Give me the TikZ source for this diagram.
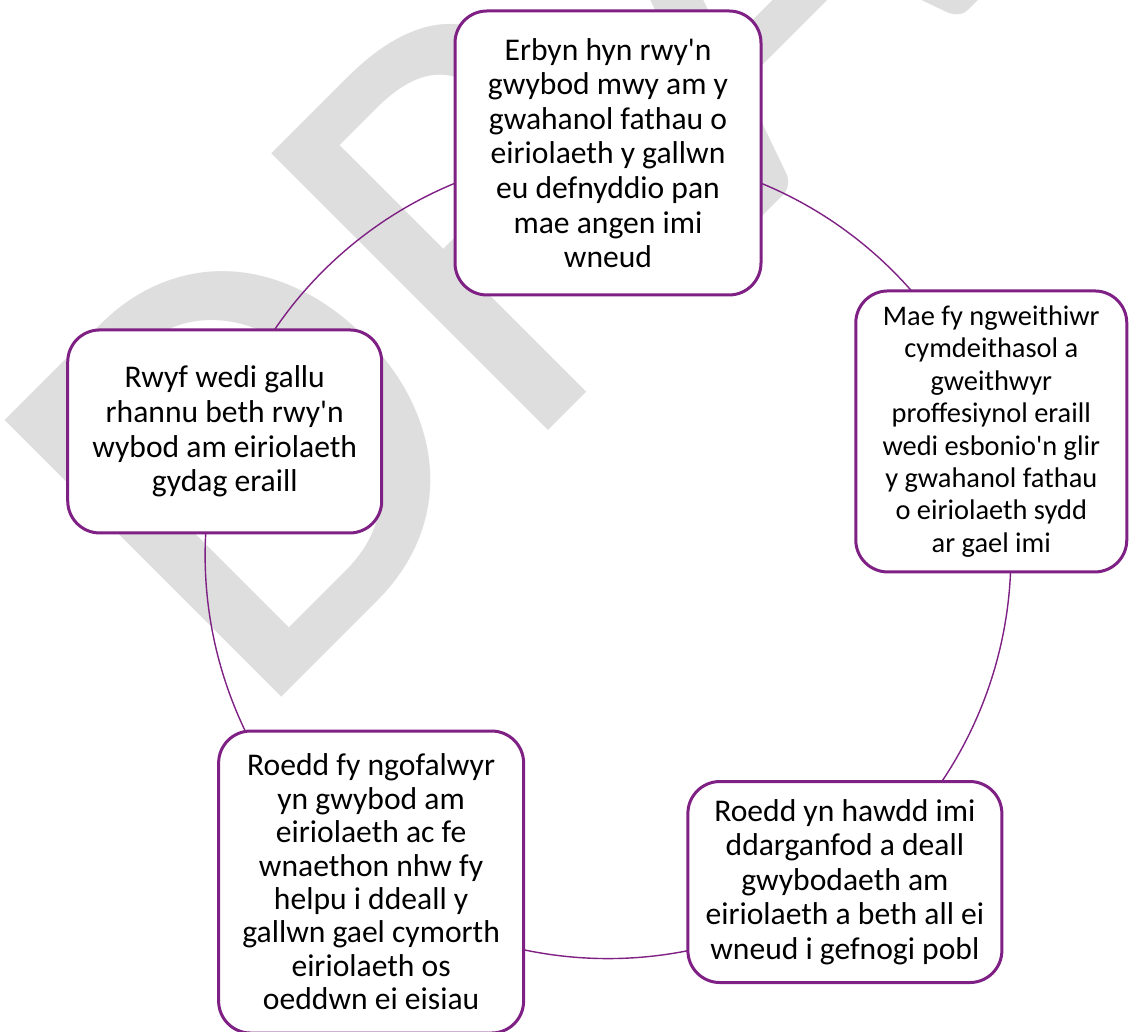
\documentclass[tikz,border=0pt]{standalone}
\usepackage{fontspec}
\setmainfont{Carlito}
\usepackage{xcolor}
\usepackage{tikz}
\usetikzlibrary{backgrounds}
\definecolor{cyclePurple}{RGB}{126,32,132}
\definecolor{draftGrey}{RGB}{222,222,222}
\newcommand{\cycleRadius}{403}
\newcommand{\draftSize}{305}
\newcommand{\apos}{\textquotesingle}

\begin{document}
\begin{tikzpicture}[x=0.5pt, y=0.5pt,
	cycleBox/.style={draw=cyclePurple, line width=1.5pt, fill=white, rounded corners=16pt, align=center, inner sep=0pt, font=\fontsize{15.8}{17.3}\selectfont},
	cycleLink/.style={draw=cyclePurple, line width=0.7pt}]

	\useasboundingbox (0,0) rectangle (1130,1032);

	\begin{scope}[shift={(608,476)}]
		\node[cycleBox, minimum width=153pt, minimum height=142pt] (top) at (90:\cycleRadius) {Erbyn hyn rwy\apos n\\gwybod mwy am y\\gwahanol fathau o\\eiriolaeth y gallwn\\eu defnyddio pan\\mae angen imi\\wneud};
		\node[cycleBox, minimum width=135.5pt, minimum height=140.5pt, font=\fontsize{14.2}{16.2}\selectfont] (right) at (18:\cycleRadius) {Mae fy ngweithiwr\\cymdeithasol a\\gweithwyr\\proffesiynol eraill\\wedi esbonio\apos n glir\\y gwahanol fathau\\o eiriolaeth sydd\\ar gael imi};
		\node[cycleBox, minimum width=157pt, minimum height=100.5pt] (lowRight) at (-54:\cycleRadius) {Roedd yn hawdd imi\\ddarganfod a deall\\gwybodaeth am\\eiriolaeth a beth all ei\\wneud i gefnogi pobl};
		\node[cycleBox, minimum width=152.5pt, minimum height=151pt, font=\fontsize{15.8}{16.7}\selectfont] (lowLeft) at (-126:\cycleRadius) {Roedd fy ngofalwyr\\yn gwybod am\\eiriolaeth ac fe\\wnaethon nhw fy\\helpu i ddeall y\\gallwn gael cymorth\\eiriolaeth os\\oeddwn ei eisiau};
		\node[cycleBox, minimum width=157pt, minimum height=101.5pt] (left) at (162:\cycleRadius) {Rwyf wedi gallu\\rhannu beth rwy\apos n\\wybod am eiriolaeth\\gydag eraill};
	\end{scope}

	\begin{scope}[on background layer]
		\clip (0,0) rectangle (1130,1032);
		\node[rotate=45, anchor=base west, inner sep=0pt, text=draftGrey, font=\fontsize{\draftSize}{\draftSize}\selectfont] (draft) at (252,305) {DRAFT};
		\foreach \from/\to/\ang [evaluate=\ang as \outAng using \ang-90, evaluate=\ang as \inAng using \ang+18] in {top/right/90, right/lowRight/18, lowRight/lowLeft/-54, lowLeft/left/-126, left/top/162}
		{
			\draw[cycleLink] (\from.center) to[out=\outAng, in=\inAng, looseness=0.94] (\to.center);
		}
	\end{scope}
\end{tikzpicture}
\end{document}
